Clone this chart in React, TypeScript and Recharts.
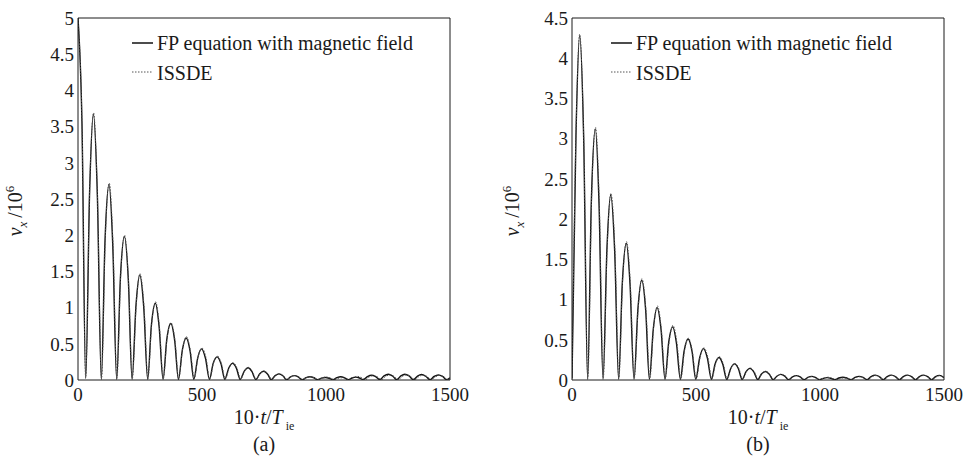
import React from 'react';
import { LineChart, Line, XAxis, YAxis } from 'recharts';

type Pt = [number, number];

const xTicks = [0, 500, 1000, 1500];
const yTicksA = [0, 0.5, 1, 1.5, 2, 2.5, 3, 3.5, 4, 4.5, 5];
const yTicksB = [0, 0.5, 1, 1.5, 2, 2.5, 3, 3.5, 4, 4.5];
const seriesNames = ['FP equation with magnetic field', 'ISSDE'];
const panelLabels = ['(a)', '(b)'];

// panel (a): FP equation with magnetic field
const fpA: Pt[] = [
  [0, 5.0], [16, 3.55], [31, 0.02],
  [47, 2.62], [62, 3.67], [78, 2.56], [94, 0.01],
  [109, 1.93], [125, 2.7], [140, 1.88], [156, 0.01],
  [171, 1.41], [187, 1.98], [203, 1.38], [218, 0.01],
  [234, 1.04], [249, 1.45], [265, 1.01], [281, 0.01],
  [296, 0.76], [312, 1.06], [327, 0.74], [343, 0.01],
  [358, 0.56], [374, 0.78], [390, 0.54], [405, 0.01],
  [421, 0.42], [436, 0.58], [452, 0.4], [467, 0.01],
  [483, 0.31], [498, 0.43], [514, 0.3], [530, 0.01],
  [545, 0.23], [561, 0.32], [577, 0.22], [592, 0.01],
  [608, 0.165], [623, 0.23], [639, 0.16], [654, 0.008],
  [670, 0.12], [686, 0.17], [701, 0.118], [717, 0.006],
  [733, 0.086], [748, 0.12], [764, 0.083], [779, 0.005],
  [795, 0.061], [810, 0.085], [826, 0.059], [841, 0.005],
  [857, 0.043], [872, 0.06], [888, 0.042], [904, 0.004],
  [920, 0.032], [935, 0.045], [951, 0.031], [966, 0.004],
  [982, 0.025], [997, 0.035], [1013, 0.024], [1028, 0.004],
  [1044, 0.032], [1059, 0.045], [1075, 0.03], [1090, 0.004],
  [1105, 0.028], [1120, 0.04], [1135, 0.028], [1150, 0.004],
  [1167, 0.046], [1184, 0.065], [1200, 0.046], [1217, 0.004],
  [1234, 0.057], [1251, 0.08], [1268, 0.057], [1285, 0.004],
  [1302, 0.057], [1318, 0.08], [1335, 0.056], [1352, 0.004],
  [1369, 0.053], [1385, 0.075], [1402, 0.052], [1419, 0.004],
  [1436, 0.05], [1453, 0.07], [1470, 0.049], [1487, 0.004],
  [1500, 0.03],
];

// panel (a): ISSDE
const issdeA: Pt[] = [
  [0, 4.98], [16, 3.56], [31, 0.03],
  [47, 2.64], [63, 3.69], [78, 2.58], [95, 0.02],
  [110, 1.95], [126, 2.72], [141, 1.9], [157, 0.02],
  [172, 1.43], [188, 2.0], [203, 1.4], [219, 0.02],
  [235, 1.05], [250, 1.47], [266, 1.03], [282, 0.02],
  [297, 0.77], [313, 1.08], [328, 0.75], [344, 0.02],
  [359, 0.57], [375, 0.79], [391, 0.55], [406, 0.02],
  [422, 0.43], [437, 0.6], [453, 0.41], [469, 0.02],
  [484, 0.32], [500, 0.44], [516, 0.31], [531, 0.015],
  [547, 0.24], [563, 0.33], [578, 0.23], [594, 0.015],
  [610, 0.17], [625, 0.24], [641, 0.165], [656, 0.012],
  [672, 0.125], [688, 0.175], [703, 0.12], [719, 0.01],
  [735, 0.09], [750, 0.125], [766, 0.086], [781, 0.008],
  [797, 0.063], [812, 0.088], [828, 0.06], [843, 0.008],
  [859, 0.045], [874, 0.062], [890, 0.043], [906, 0.006],
  [921, 0.033], [937, 0.046], [952, 0.032], [968, 0.006],
  [984, 0.03], [1000, 0.042], [1016, 0.029], [1031, 0.006],
  [1047, 0.022], [1062, 0.03], [1078, 0.021], [1094, 0.005],
  [1110, 0.035], [1126, 0.05], [1142, 0.035], [1158, 0.005],
  [1175, 0.043], [1191, 0.06], [1208, 0.042], [1224, 0.005],
  [1241, 0.05], [1258, 0.07], [1274, 0.05], [1291, 0.005],
  [1308, 0.05], [1325, 0.072], [1341, 0.05], [1358, 0.005],
  [1375, 0.048], [1391, 0.068], [1408, 0.047], [1425, 0.005],
  [1442, 0.045], [1458, 0.064], [1475, 0.044], [1492, 0.005],
  [1500, 0.02],
];

// panel (b): FP equation with magnetic field
const fpB: Pt[] = [
  [0, 0.02], [16, 3.04], [31, 4.28], [47, 3.02], [63, 0.01],
  [78, 2.22], [94, 3.12], [109, 2.19], [125, 0.01],
  [141, 1.64], [156, 2.3], [172, 1.61], [188, 0.01],
  [203, 1.21], [219, 1.7], [234, 1.19], [250, 0.01],
  [266, 0.89], [281, 1.24], [297, 0.87], [312, 0.01],
  [328, 0.64], [343, 0.9], [359, 0.63], [375, 0.01],
  [390, 0.47], [406, 0.66], [421, 0.46], [437, 0.01],
  [452, 0.36], [468, 0.51], [484, 0.355], [499, 0.01],
  [515, 0.28], [530, 0.39], [546, 0.27], [562, 0.01],
  [577, 0.2], [593, 0.28], [608, 0.195], [624, 0.008],
  [640, 0.143], [655, 0.2], [671, 0.14], [686, 0.006],
  [702, 0.104], [717, 0.145], [733, 0.101], [749, 0.005],
  [764, 0.075], [780, 0.105], [795, 0.073], [811, 0.005],
  [827, 0.05], [842, 0.07], [858, 0.049], [873, 0.004],
  [889, 0.039], [904, 0.055], [920, 0.038], [936, 0.004],
  [951, 0.032], [967, 0.045], [982, 0.031], [998, 0.004],
  [1013, 0.021], [1029, 0.03], [1044, 0.02], [1060, 0.004],
  [1076, 0.025], [1092, 0.035], [1109, 0.024], [1125, 0.004],
  [1141, 0.032], [1158, 0.045], [1174, 0.031], [1190, 0.004],
  [1206, 0.043], [1223, 0.06], [1239, 0.042], [1255, 0.004],
  [1271, 0.043], [1288, 0.06], [1304, 0.042], [1320, 0.004],
  [1336, 0.043], [1353, 0.06], [1369, 0.042], [1385, 0.004],
  [1401, 0.043], [1418, 0.06], [1434, 0.042], [1450, 0.004],
  [1466, 0.042], [1482, 0.058], [1500, 0.03],
];

// panel (b): ISSDE
const issdeB: Pt[] = [
  [0, 0.03], [16, 3.06], [31, 4.3], [47, 3.04], [64, 0.02],
  [79, 2.24], [95, 3.14], [110, 2.21], [126, 0.02],
  [142, 1.66], [157, 2.32], [173, 1.63], [189, 0.02],
  [204, 1.23], [220, 1.72], [235, 1.21], [251, 0.02],
  [267, 0.9], [282, 1.26], [298, 0.88], [314, 0.02],
  [329, 0.65], [345, 0.92], [360, 0.64], [376, 0.02],
  [392, 0.48], [407, 0.68], [423, 0.47], [439, 0.015],
  [454, 0.37], [470, 0.52], [485, 0.36], [501, 0.015],
  [517, 0.29], [532, 0.4], [548, 0.28], [564, 0.012],
  [579, 0.205], [595, 0.29], [610, 0.2], [626, 0.01],
  [642, 0.148], [657, 0.205], [673, 0.143], [688, 0.008],
  [704, 0.107], [719, 0.15], [735, 0.104], [751, 0.006],
  [766, 0.078], [782, 0.108], [797, 0.075], [813, 0.006],
  [829, 0.052], [844, 0.072], [860, 0.05], [875, 0.005],
  [891, 0.04], [906, 0.056], [922, 0.039], [938, 0.005],
  [953, 0.03], [969, 0.042], [984, 0.029], [1000, 0.005],
  [1016, 0.025], [1032, 0.035], [1048, 0.024], [1064, 0.004],
  [1080, 0.018], [1096, 0.025], [1112, 0.017], [1128, 0.004],
  [1144, 0.028], [1160, 0.04], [1176, 0.028], [1192, 0.004],
  [1208, 0.038], [1225, 0.054], [1241, 0.038], [1257, 0.004],
  [1273, 0.04], [1290, 0.056], [1306, 0.039], [1322, 0.004],
  [1338, 0.04], [1355, 0.057], [1371, 0.04], [1387, 0.004],
  [1403, 0.04], [1420, 0.056], [1436, 0.039], [1452, 0.004],
  [1468, 0.038], [1484, 0.054], [1500, 0.025],
];

const rows = (pts: Pt[]) => pts.map(([x, y]) => ({ x, y }));

type PanelProps = {
  left: number;
  fp: Pt[];
  issde: Pt[];
  yMax: number;
  yTicks: number[];
  label: string;
  legendX: number;
  ylabelX: number;
};

function Panel({ left, fp, issde, yMax, yTicks, label, legendX, ylabelX }: PanelProps) {
  const W = 484;
  const H = 456;
  const plotL = 78;
  const plotR = 450;
  const cx = (plotL + plotR) / 2;
  const tickStyle = { fill: '#1a1a1a', fontSize: 19 };
  return (
    <div style={{ position: 'absolute', left, top: 0, width: W, height: H }}>
      <LineChart width={W} height={H} margin={{ top: 18, right: W - plotR, bottom: 46, left: 0 }}>
        <XAxis
          xAxisId="m"
          dataKey="x"
          type="number"
          domain={[0, 1500]}
          ticks={xTicks}
          interval={0}
          allowDataOverflow
          tickLine={false}
          axisLine={{ stroke: '#1a1a1a', strokeWidth: 1 }}
          tick={tickStyle}
          tickSize={6}
          tickMargin={2}
          height={30}
        />
        <XAxis
          xAxisId="bi"
          type="number"
          domain={[0, 1500]}
          ticks={xTicks}
          interval={0}
          allowDataOverflow
          orientation="bottom"
          mirror
          height={1}
          tick={false}
          tickSize={5}
          axisLine={false}
          tickLine={{ stroke: '#1a1a1a' }}
        />
        <XAxis
          xAxisId="ti"
          type="number"
          domain={[0, 1500]}
          ticks={xTicks}
          interval={0}
          allowDataOverflow
          orientation="top"
          mirror
          height={1}
          tick={false}
          tickSize={5}
          axisLine={{ stroke: '#1a1a1a' }}
          tickLine={{ stroke: '#1a1a1a' }}
        />
        <YAxis
          yAxisId="m"
          type="number"
          domain={[0, yMax]}
          ticks={yTicks}
          interval={0}
          allowDataOverflow
          tickLine={false}
          axisLine={{ stroke: '#1a1a1a' }}
          tick={tickStyle}
          tickSize={4}
          tickMargin={0}
          width={plotL}
        />
        <YAxis
          yAxisId="li"
          type="number"
          domain={[0, yMax]}
          ticks={yTicks}
          interval={0}
          allowDataOverflow
          orientation="left"
          mirror
          width={1}
          tick={false}
          tickSize={5}
          axisLine={false}
          tickLine={{ stroke: '#1a1a1a' }}
        />
        <YAxis
          yAxisId="ri"
          type="number"
          domain={[0, yMax]}
          ticks={yTicks}
          interval={0}
          allowDataOverflow
          orientation="right"
          mirror
          width={1}
          tick={false}
          tickSize={5}
          axisLine={{ stroke: '#1a1a1a' }}
          tickLine={{ stroke: '#1a1a1a' }}
        />
        <Line
          xAxisId="m"
          yAxisId="m"
          data={rows(fp)}
          dataKey="y"
          name={seriesNames[0]}
          type="monotone"
          stroke="#111"
          strokeWidth={1.4}
          dot={false}
          isAnimationActive={false}
        />
        <Line
          xAxisId="m"
          yAxisId="m"
          data={rows(issde)}
          dataKey="y"
          name={seriesNames[1]}
          type="monotone"
          stroke="#555"
          strokeWidth={1}
          strokeDasharray="1.5 1.5"
          dot={false}
          isAnimationActive={false}
        />
      </LineChart>
      <svg
        width={W}
        height={H}
        style={{ position: 'absolute', left: 0, top: 0, pointerEvents: 'none' }}
        fill="#1a1a1a"
      >
        <line x1={legendX} x2={legendX + 21} y1={43} y2={43} stroke="#111" strokeWidth={1.5} />
        <text x={legendX + 25} y={50} fontSize={20}>{seriesNames[0]}</text>
        <line x1={legendX} x2={legendX + 21} y1={72} y2={72} stroke="#555" strokeWidth={1} strokeDasharray="1.5 1.5" />
        <text x={legendX + 25} y={80} fontSize={20}>{seriesNames[1]}</text>
        <text transform={`translate(${ylabelX},211) rotate(-90)`} textAnchor="middle" fontSize={20}>
          <tspan fontStyle="italic">v</tspan>
          <tspan fontStyle="italic" fontSize={13} dy={5}>x</tspan>
          <tspan dy={-5} dx={4}>/10</tspan>
          <tspan fontSize={13} dy={-8}>6</tspan>
        </text>
        <text x={cx} y={424} textAnchor="middle" fontSize={20}>
          10·<tspan fontStyle="italic">t</tspan>/<tspan fontStyle="italic">T</tspan>
          <tspan fontSize={12} dx={3} dy={6}>ie</tspan>
        </text>
        <text x={cx} y={451} textAnchor="middle" fontSize={20}>{label}</text>
      </svg>
    </div>
  );
}

export default function App() {
  return (
    <div style={{ position: 'absolute', left: 0, top: 0, width: 968, height: 456, background: '#fff', fontFamily: '"Liberation Serif", serif' }}>
      <Panel left={0} fp={fpA} issde={issdeA} yMax={5} yTicks={yTicksA} label={panelLabels[0]} legendX={132} ylabelX={22} />
      <Panel left={494} fp={fpB} issde={issdeB} yMax={4.5} yTicks={yTicksB} label={panelLabels[1]} legendX={117} ylabelX={25} />
    </div>
  );
}
